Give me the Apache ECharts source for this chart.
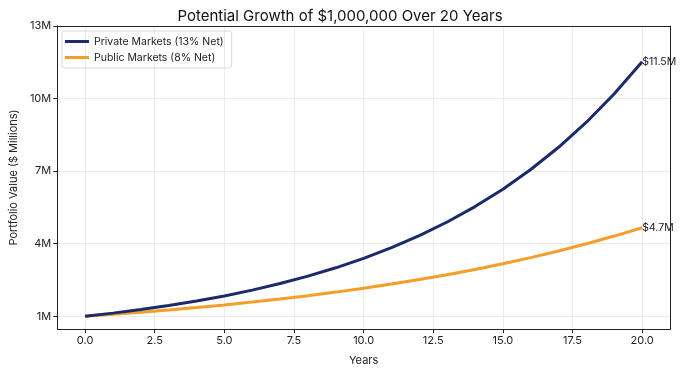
<!DOCTYPE html>
<html><head><meta charset="utf-8">
<script src="https://cdn.jsdelivr.net/npm/echarts@6/dist/echarts.min.js"></script>
<style>html,body{margin:0;padding:0;background:#fff}#c{width:680px;height:373px}</style>
</head><body><div id="c"></div>
<script>
const years = [0,1,2,3,4,5,6,7,8,9,10,11,12,13,14,15,16,17,18,19,20];
const privateVals = [1.000,1.130,1.277,1.443,1.630,1.842,2.082,2.353,2.658,3.004,3.395,3.836,4.335,4.898,5.535,6.254,7.067,7.986,9.024,10.197,11.523];
const publicVals = [1.000,1.080,1.166,1.260,1.360,1.469,1.587,1.714,1.851,1.999,2.159,2.332,2.518,2.720,2.937,3.172,3.426,3.700,3.996,4.316,4.661];
const xTicks = [0,2.5,5,7.5,10,12.5,15,17.5,20];
const yTicks = [1,4,7,10,13];
const seriesNames = ['Private Markets (13% Net)','Public Markets (8% Net)'];
const endLabels = ['$11.5M','$4.7M'];
const colors = ['#1b2a6b','#f59e2a'];
const FONT = 'Inter';

function mk(i, vals){
  return {
    name: seriesNames[i], type:'line', showSymbol:false, symbol:'none',
    data: years.map((y,k)=>[y, vals[k]]),
    lineStyle:{width:3,color:colors[i]}, itemStyle:{color:colors[i]},
    z: 3 + (1-i),
    endLabel:{show:true, distance:0, fontFamily:FONT, fontSize:10.5, color:'#222',
      formatter: () => endLabels[i]}
  };
}
const frameAxis = {show:true, z:10, axisLine:{show:true,onZero:false,lineStyle:{color:'#222'}},
  axisTick:{show:false}, axisLabel:{show:false}, splitLine:{show:false}};
const chart = echarts.init(document.getElementById('c'), null, {renderer:'canvas'});
chart.setOption({
  animation:false,
  textStyle:{fontFamily:FONT},
  title:{text:'Potential Growth of $1,000,000 Over 20 Years', left:'center', top:4,
    textStyle:{fontFamily:FONT, fontSize:15, fontWeight:'normal', color:'#111'}},
  legend:{left:62, top:31, orient:'vertical', itemWidth:24, itemHeight:3, itemGap:5,
    padding:[5,8,5,3], borderColor:'#d8d8d8', borderWidth:1, borderRadius:3,
    icon:'rect', textStyle:{fontFamily:FONT, fontSize:10.5, color:'#222'}, data:seriesNames},
  grid:{left:56, right:10, top:26, bottom:44, show:false},
  xAxis:[{type:'value', min:-1, max:21, name:'Years', nameLocation:'middle', nameGap:26,
    nameTextStyle:{fontFamily:FONT, fontSize:11, color:'#222'},
    axisLine:{show:true,onZero:false,lineStyle:{color:'#222'}},
    axisTick:{show:true, customValues:xTicks, length:4, lineStyle:{color:'#222'}},
    axisLabel:{customValues:xTicks, formatter:v=>v.toFixed(1), fontFamily:FONT, fontSize:11, color:'#222', margin:6},
    splitLine:{show:true, lineStyle:{color:'#ebebeb', width:1}}},
    Object.assign({type:'value', min:-1, max:21, position:'top'}, frameAxis)],
  yAxis:[{type:'value', min:0.474, max:13, name:'Portfolio Value ($ Millions)', nameLocation:'middle', nameGap:34,
    nameTextStyle:{fontFamily:FONT, fontSize:11, color:'#222'},
    axisLine:{show:true,onZero:false,lineStyle:{color:'#222'}},
    axisTick:{show:true, customValues:yTicks, length:4, lineStyle:{color:'#222'}},
    axisLabel:{customValues:yTicks, formatter:v=>v+'M', fontFamily:FONT, fontSize:11, color:'#222', margin:6},
    splitLine:{show:true, lineStyle:{color:'#ebebeb', width:1}}},
    Object.assign({type:'value', min:0.474, max:13, position:'right'}, frameAxis)],
  series:[mk(0, privateVals), mk(1, publicVals)]
});
</script></body></html>
